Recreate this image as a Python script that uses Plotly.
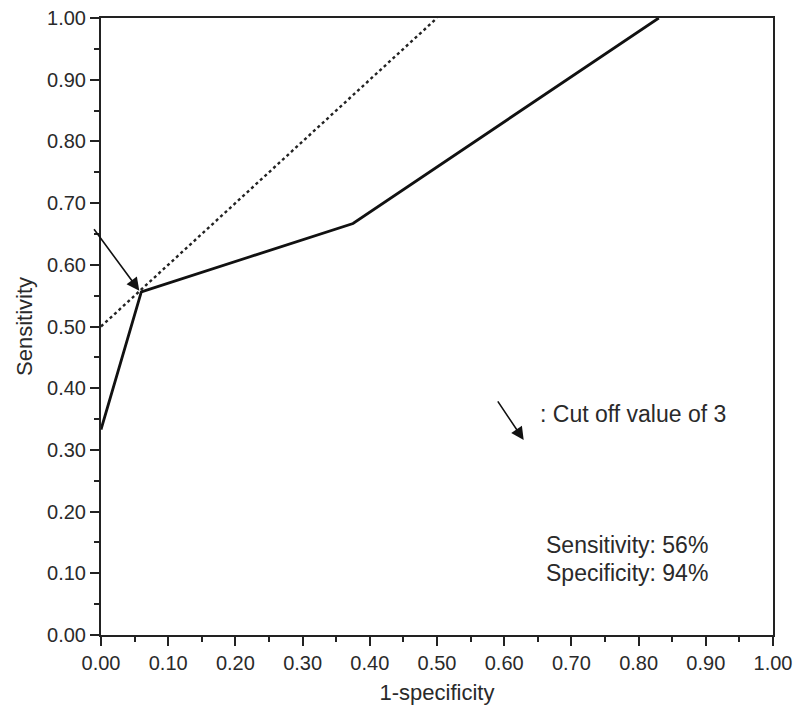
import plotly.graph_objects as go

roc_x = [0.0, 0.06, 0.375, 0.83]
roc_y = [0.333, 0.556, 0.667, 1.0]
ref_x = [0.0, 0.5]
ref_y = [0.5, 1.0]
tick_vals = [i / 10 for i in range(11)]
tick_text = ["%.2f" % v for v in tick_vals]

font = "Liberation Sans, Arial, sans-serif"
txt = "#2a2a2a"
fig = go.Figure()
fig.add_trace(go.Scatter(x=ref_x, y=ref_y, mode="lines",
                         line=dict(color="#222", width=2.4, dash="dot"), cliponaxis=False))
fig.add_trace(go.Scatter(x=roc_x, y=roc_y, mode="lines",
                         line=dict(color="#111", width=2.8), cliponaxis=False))

# cut-off arrow
fig.add_annotation(x=0.057, y=0.558, ax=-0.012, ay=0.66, xref="x", yref="y", axref="x", ayref="y",
                   showarrow=True, arrowhead=2, arrowsize=1.6, arrowwidth=1.6, arrowcolor="#111", text="")
# legend arrow
fig.add_annotation(x=0.629, y=0.316, ax=0.589, ay=0.381, xref="x", yref="y", axref="x", ayref="y",
                   showarrow=True, arrowhead=2, arrowsize=1.6, arrowwidth=1.6, arrowcolor="#111", text="")
fig.add_annotation(x=0.650, y=0.358, xref="x", yref="y", text=": Cut off value of 3", showarrow=False,
                   xanchor="left", yanchor="middle", font=dict(family=font, size=23, color=txt))
fig.add_annotation(x=0.659, y=0.146, xref="x", yref="y", text="Sensitivity: 56%",
                   showarrow=False, xanchor="left", yanchor="middle",
                   font=dict(family=font, size=23, color=txt))
fig.add_annotation(x=0.659, y=0.101, xref="x", yref="y", text="Specificity: 94%",
                   showarrow=False, xanchor="left", yanchor="middle",
                   font=dict(family=font, size=23, color=txt))

axis_common = dict(range=[0, 1], tickvals=tick_vals, ticktext=tick_text, ticks="outside", ticklen=9,
                   tickwidth=2, tickcolor="#222", showline=True, linecolor="#222", linewidth=2,
                   mirror=True, showgrid=False, zeroline=False,
                   tickfont=dict(family=font, size=20, color=txt),
                   minor=dict(dtick=0.05, ticks="outside", ticklen=5, tickwidth=2, tickcolor="#222",
                              showgrid=False))
fig.update_xaxes(**axis_common, title=dict(text="1-specificity", font=dict(family=font, size=22, color=txt),
                                            standoff=12))
fig.update_yaxes(**axis_common, title=dict(text="Sensitivity", font=dict(family=font, size=22, color=txt),
                                            standoff=8))
fig.update_layout(width=793, height=709, margin=dict(l=101, r=20, t=18, b=74, autoexpand=False),
                  plot_bgcolor="white", paper_bgcolor="white", showlegend=False)
fig.write_html("out.html", config={"displayModeBar": False},
               post_script="document.body.style.margin='0';document.body.style.overflow='hidden';")
